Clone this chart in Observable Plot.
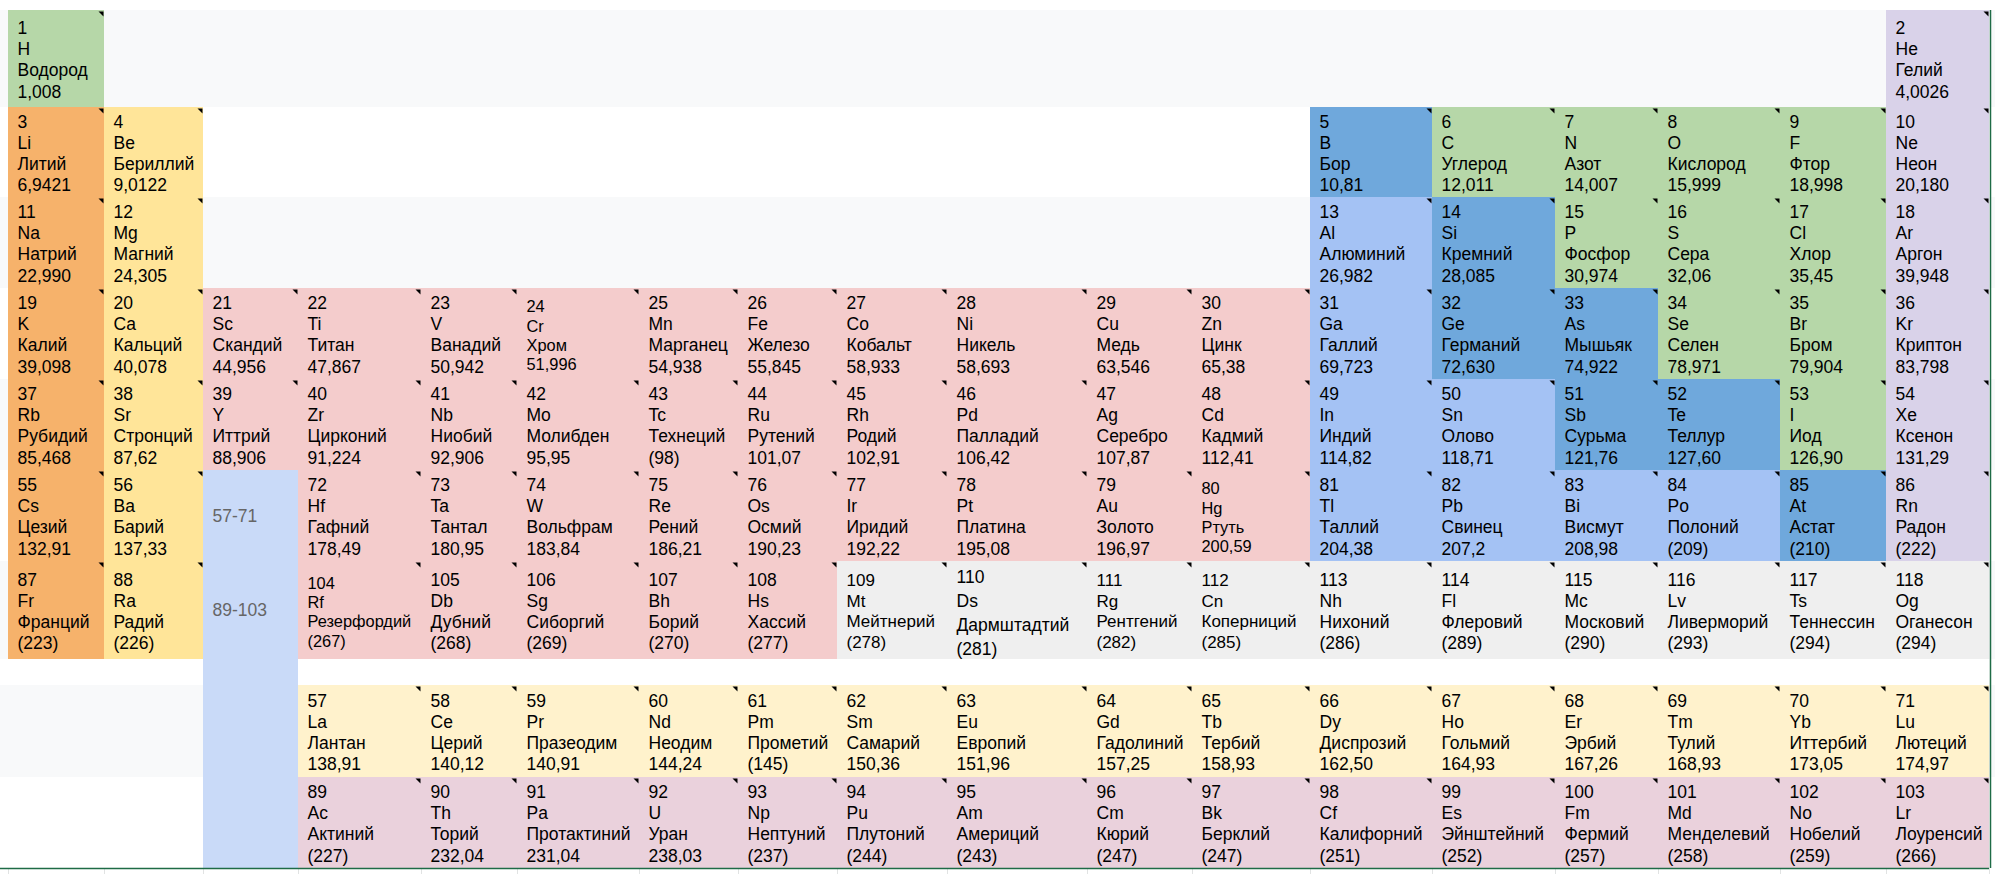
<!DOCTYPE html>
<html><head><meta charset="utf-8">
<script src="https://cdn.jsdelivr.net/npm/d3@7"></script>
<script src="https://cdn.jsdelivr.net/npm/@observablehq/plot@0.6"></script>
<style>
html,body{margin:0;padding:0;background:#fff;overflow:hidden}
svg{display:block}
</style></head><body><div id="chart"></div>
<script>
// ---- data ----
const atomicNumbers = [1,2,3,4,5,6,7,8,9,10,11,12,13,14,15,16,17,18,19,20,21,22,23,24,25,26,27,28,29,30,31,32,33,34,35,36,37,38,39,40,41,42,43,44,45,46,47,48,49,50,51,52,53,54,55,56,57,58,59,60,61,62,63,64,65,66,67,68,69,70,71,72,73,74,75,76,77,78,79,80,81,82,83,84,85,86,87,88,89,90,91,92,93,94,95,96,97,98,99,100,101,102,103,104,105,106,107,108,109,110,111,112,113,114,115,116,117,118];
const symbols = ["H","He","Li","Be","B","C","N","O","F","Ne","Na","Mg","Al","Si","P","S","Cl","Ar","K","Ca","Sc","Ti","V","Cr","Mn","Fe","Co","Ni","Cu","Zn","Ga","Ge","As","Se","Br","Kr","Rb","Sr","Y","Zr","Nb","Mo","Tc","Ru","Rh","Pd","Ag","Cd","In","Sn","Sb","Te","I","Xe","Cs","Ba","La","Ce","Pr","Nd","Pm","Sm","Eu","Gd","Tb","Dy","Ho","Er","Tm","Yb","Lu","Hf","Ta","W","Re","Os","Ir","Pt","Au","Hg","Tl","Pb","Bi","Po","At","Rn","Fr","Ra","Ac","Th","Pa","U","Np","Pu","Am","Cm","Bk","Cf","Es","Fm","Md","No","Lr","Rf","Db","Sg","Bh","Hs","Mt","Ds","Rg","Cn","Nh","Fl","Mc","Lv","Ts","Og"];
const names = ["Водород","Гелий","Литий","Бериллий","Бор","Углерод","Азот","Кислород","Фтор","Неон","Натрий","Магний","Алюминий","Кремний","Фосфор","Сера","Хлор","Аргон","Калий","Кальций","Скандий","Титан","Ванадий","Хром","Марганец","Железо","Кобальт","Никель","Медь","Цинк","Галлий","Германий","Мышьяк","Селен","Бром","Криптон","Рубидий","Стронций","Иттрий","Цирконий","Ниобий","Молибден","Технеций","Рутений","Родий","Палладий","Серебро","Кадмий","Индий","Олово","Сурьма","Теллур","Иод","Ксенон","Цезий","Барий","Лантан","Церий","Празеодим","Неодим","Прометий","Самарий","Европий","Гадолиний","Тербий","Диспрозий","Гольмий","Эрбий","Тулий","Иттербий","Лютеций","Гафний","Тантал","Вольфрам","Рений","Осмий","Иридий","Платина","Золото","Ртуть","Таллий","Свинец","Висмут","Полоний","Астат","Радон","Франций","Радий","Актиний","Торий","Протактиний","Уран","Нептуний","Плутоний","Америций","Кюрий","Берклий","Калифорний","Эйнштейний","Фермий","Менделевий","Нобелий","Лоуренсий","Резерфордий","Дубний","Сиборгий","Борий","Хассий","Мейтнерий","Дармштадтий","Рентгений","Коперниций","Нихоний","Флеровий","Московий","Ливерморий","Теннессин","Оганесон"];
const masses = ["1,008","4,0026","6,9421","9,0122","10,81","12,011","14,007","15,999","18,998","20,180","22,990","24,305","26,982","28,085","30,974","32,06","35,45","39,948","39,098","40,078","44,956","47,867","50,942","51,996","54,938","55,845","58,933","58,693","63,546","65,38","69,723","72,630","74,922","78,971","79,904","83,798","85,468","87,62","88,906","91,224","92,906","95,95","(98)","101,07","102,91","106,42","107,87","112,41","114,82","118,71","121,76","127,60","126,90","131,29","132,91","137,33","138,91","140,12","140,91","144,24","(145)","150,36","151,96","157,25","158,93","162,50","164,93","167,26","168,93","173,05","174,97","178,49","180,95","183,84","186,21","190,23","192,22","195,08","196,97","200,59","204,38","207,2","208,98","(209)","(210)","(222)","(223)","(226)","(227)","232,04","231,04","238,03","(237)","(244)","(243)","(247)","(247)","(251)","(252)","(257)","(258)","(259)","(266)","(267)","(268)","(269)","(270)","(277)","(278)","(281)","(282)","(285)","(286)","(289)","(290)","(293)","(294)","(294)"];

const alkaliMetals = [3,11,19,37,55,87];
const alkalineEarth = [4,12,20,38,56,88];
const nonmetals = [1,6,7,8,9,15,16,17,34,35,53];
const nobleGases = [2,10,18,36,54,86];
const metalloids = [5,14,32,33,51,52,85];
const postTransition = [13,31,49,50,81,82,83,84];
const unknownProps = [109,110,111,112,113,114,115,116,117,118];
const placeholderLabels = ["57-71","89-103"];
const noComment = [47];

// ---- styles / layout ----
const colors = {
  alkali:"#f6b26b", alkaline:"#ffe599", nonmetal:"#b6d7a8", noble:"#d9d2e9",
  metalloid:"#6fa8dc", post:"#a4c2f4", transition:"#f4cccc", unknown:"#efefef",
  lanthanide:"#fff2cc", actinide:"#ead1dc", placeholder:"#c9daf8"
};
const colEdges = [8,104,203,298,421,517,639,738,837,947,1087,1192,1310,1432,1555,1658,1780,1886,1989];
const rowEdges = [10,107,197,288,379,470,561,659,685,777,868];
const FONT = "'Liberation Sans', Arial, sans-serif";

function category(n){
  if (alkaliMetals.includes(n)) return "alkali";
  if (alkalineEarth.includes(n)) return "alkaline";
  if (nonmetals.includes(n)) return "nonmetal";
  if (nobleGases.includes(n)) return "noble";
  if (metalloids.includes(n)) return "metalloid";
  if (postTransition.includes(n)) return "post";
  if (unknownProps.includes(n)) return "unknown";
  if (n >= 57 && n <= 71) return "lanthanide";
  if (n >= 89 && n <= 103) return "actinide";
  return "transition";
}
function position(n){
  if (n >= 57 && n <= 71) return {col: 3 + (n - 57), row: 8};
  if (n >= 89 && n <= 103) return {col: 3 + (n - 89), row: 9};
  if (n === 1) return {col: 0, row: 0};
  if (n === 2) return {col: 17, row: 0};
  if (n <= 10) return {row: 1, col: n <= 4 ? n - 3 : n - 10 + 17};
  if (n <= 18) return {row: 2, col: n <= 12 ? n - 11 : n - 18 + 17};
  if (n <= 36) return {row: 3, col: n - 19};
  if (n <= 54) return {row: 4, col: n - 37};
  if (n <= 86) return {row: 5, col: n <= 56 ? n - 55 : n - 86 + 17};
  return {row: 6, col: n <= 88 ? n - 87 : n - 118 + 17};
}

const cells = atomicNumbers.map((n, i) => ({
  n, sym: symbols[i], name: names[i], mass: masses[i],
  cat: category(n), ...position(n)
}));
const label = d => `${d.n}\n${d.sym}\n${d.name}\n${d.mass}`;

const smallSet = [24, 80, 104];
const midSet = [109, 111, 112];
const wideSet = [110];
const normalCells = cells.filter(d => ![...smallSet, ...midSet, ...wideSet].includes(d.n));
const smallCells = cells.filter(d => smallSet.includes(d.n));
const midCells = cells.filter(d => midSet.includes(d.n));
const wideCells = cells.filter(d => wideSet.includes(d.n));

const bands = [0,1,2,3,4,5,6,7,8,9].map(r => ({row: r, fill: r === 7 ? "#ffffff" : (r % 2 === 0 ? "#f8f9fa" : "#ffffff")}));
const placeholderCell = [{col: 2, row: 5, rowEnd: 10}];
const placeholderText = placeholderLabels.map((t, i) => ({t, col: 2, row: 5 + i}));

const cornerMark = {
  draw(ctx) { ctx.moveTo(0, 0); ctx.lineTo(-5, 0); ctx.lineTo(0, 5); ctx.closePath(); }
};

const textCommon = {x: "col", y: d => d.row + 0.5, textAnchor: "start", dx: 9, lineAnchor: "middle", fill: "#000", fontFamily: FONT};

const chart = Plot.plot({
  width: 1995, height: 874, margin: 0,
  x: {type: "linear", domain: d3.range(19), range: colEdges, axis: null},
  y: {type: "linear", domain: d3.range(11), range: rowEdges, axis: null},
  color: {type: "identity"},
  style: {background: "#ffffff", fontFamily: FONT},
  marks: [
    Plot.rect(bands, {x1: () => -1, x2: () => 20, y1: "row", y2: d => d.row + 1, fill: "fill"}),
    Plot.rect(cells, {x1: "col", x2: d => d.col + 1, y1: "row", y2: d => d.row + 1, fill: d => colors[d.cat]}),
    Plot.rect(placeholderCell, {x1: "col", x2: d => d.col + 1, y1: "row", y2: "rowEnd", fill: () => colors.placeholder}),
    Plot.dot(cells.filter(d => !noComment.includes(d.n)), {x: d => d.col + 1, y: "row", dx: -1, dy: 1, symbol: cornerMark, r: 3, fill: "#000", stroke: "none"}),
    Plot.text(normalCells, {...textCommon, text: label, fontSize: 17.5, lineHeight: 1.21}),
    Plot.text(smallCells, {...textCommon, text: label, fontSize: 16.4, lineHeight: 1.18, dy: 1}),
    Plot.text(midCells, {...textCommon, text: label, fontSize: 17, lineHeight: 1.2}),
    Plot.text(wideCells, {...textCommon, text: label, fontSize: 17.5, lineHeight: 1.36, dy: 1}),
    Plot.text(placeholderText, {x: "col", y: d => d.row + 0.5, text: "t", textAnchor: "start", dx: 9, fill: "#666666", fontSize: 17.5, fontFamily: FONT}),
    Plot.ruleX(colEdges.map((_, i) => i), {x: d => d, y1: () => 10, y2: () => 10.2, stroke: "#e1e3e3", strokeWidth: 1}),
    Plot.ruleY([10], {x1: () => -1, x2: () => 18, stroke: "#1e6b46", strokeWidth: 1.5}),
    Plot.ruleX([18], {x: d => d, y1: () => 0, y2: () => 10, dx: 1, stroke: "#1e6b46", strokeWidth: 1.5})
  ]
});
document.getElementById("chart").appendChild(chart);
</script>
</body></html>
